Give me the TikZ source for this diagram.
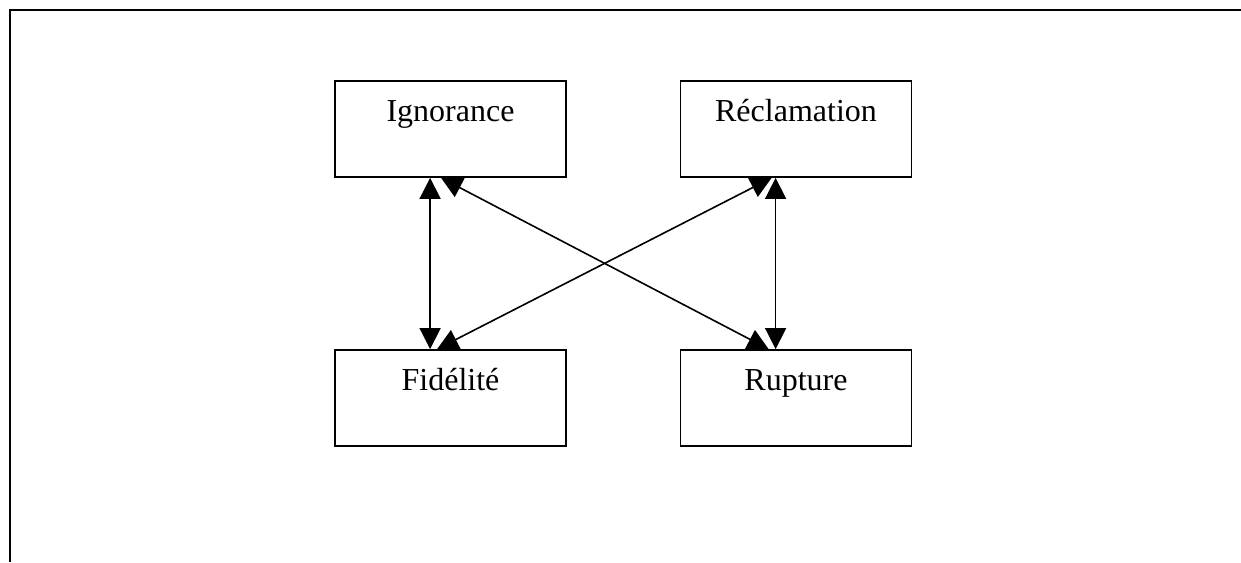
\documentclass[tikz,border=0pt]{standalone}
\usepackage{fontspec}
\setmainfont{Liberation Serif}
\usetikzlibrary{arrows.meta,calc}
\begin{document}
\begin{tikzpicture}[x=1pt,y=-1pt,
  box/.style={draw,line width=1.8pt,rectangle,minimum width=231pt,minimum height=96pt,inner sep=0pt},
  lbl/.style={anchor=base,font=\fontsize{32}{38}\selectfont,inner sep=0pt},
  link/.style={line width=1.6pt,{Triangle[length=21pt,width=21pt]}-{Triangle[length=21pt,width=21pt]}}]
\useasboundingbox (0,0) rectangle (1241,562);
\draw[line width=2.2pt] (10,562) -- (10,10) -- (1241,10);
\node[box] (ign) at (450.5,129) {};
\node[box] (rec) at (796,129) {};
\node[box] (fid) at (450.5,398) {};
\node[box] (rup) at (796,398) {};
\node[lbl] (ignt) at (450.5,121) {Ignorance};
\node[lbl] (rect) at (796,121) {Réclamation};
\node[lbl] (fidt) at (450.5,390) {Fidélité};
\node[lbl] (rupt) at (796,390) {Rupture};
\draw[link] ($(ign.south west)+(96,0)$) -- ($(fid.north west)+(96,0)$);
\draw[link] ($(ign.south west)+(107,0)$) -- ($(rup.north west)+(89,0)$);
\draw[link] ($(rec.south west)+(92,0)$) -- ($(fid.north west)+(103,0)$);
\draw[link] ($(rec.south west)+(96,0)$) -- ($(rup.north west)+(96,0)$);
\end{tikzpicture}
\end{document}
